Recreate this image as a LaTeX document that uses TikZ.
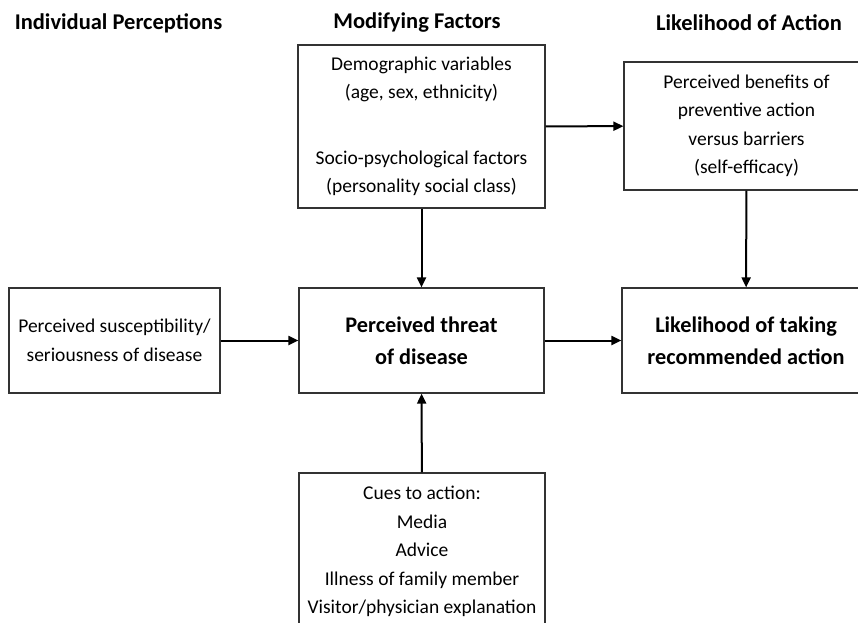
\documentclass[tikz,border=0pt]{standalone}
\usepackage{fontspec}
\setmainfont{Carlito}
\usetikzlibrary{arrows.meta}

\begin{document}
\begin{tikzpicture}[x=1pt,y=-1pt,
	box/.style={draw=black!80,line width=1.2pt,inner sep=0pt,align=center,
		font=\fontsize{19.5}{28.5}\selectfont},
	mainbox/.style={box,font=\fontsize{22.3}{32}\selectfont\bfseries},
	head/.style={inner sep=0pt,font=\fontsize{22.5}{26}\selectfont\bfseries},
	arr/.style={line width=2pt,-{Triangle[length=10pt,width=9pt]}}]
	\useasboundingbox (0,0) rectangle (858,622);
	\clip (0,0) rectangle (858,622);
	% column headings
	\node[head] (h1) at (118.5,23) {Individual Perceptions};
	\node[head] (h2) at (417,23) {Modifying Factors};
	\node[head] (h3) at (749,23) {Likelihood of Action};
	% boxes
	\node[box,minimum width=247pt,minimum height=163pt] (modif) at (421.5,126.5)
		{Demographic variables\\(age, sex, ethnicity)\\[37pt]Socio-psychological factors\\(personality social class)};
	\node[box,minimum width=245pt,minimum height=128pt] (benef) at (746.5,126)
		{Perceived benefits of\\preventive action\\versus barriers\\(self-efficacy)};
	\node[box,minimum width=211pt,minimum height=105pt] (suscept) at (114.5,340.5)
		{Perceived susceptibility/\\seriousness of disease};
	\node[mainbox,minimum width=245pt,minimum height=105pt] (threat) at (421.5,340.5)
		{Perceived threat\\of disease};
	\node[mainbox,minimum width=248pt,minimum height=105pt] (likely) at (746,340.5)
		{Likelihood of taking\\recommended action};
	\node[box,minimum width=246pt,minimum height=157pt] (cues) at (422,551.5)
		{Cues to action:\\Media\\Advice\\Illness of family member\\Visitor/physician explanation};
	% arrows
	\draw[arr] (suscept) -- (threat);
	\draw[arr] (threat) -- (likely);
	\draw[arr] (modif) -- (threat);
	\draw[arr] (cues) -- (threat);
	\draw[arr] (modif) -- (benef);
	\draw[arr] (benef) -- (likely);
\end{tikzpicture}
\end{document}
